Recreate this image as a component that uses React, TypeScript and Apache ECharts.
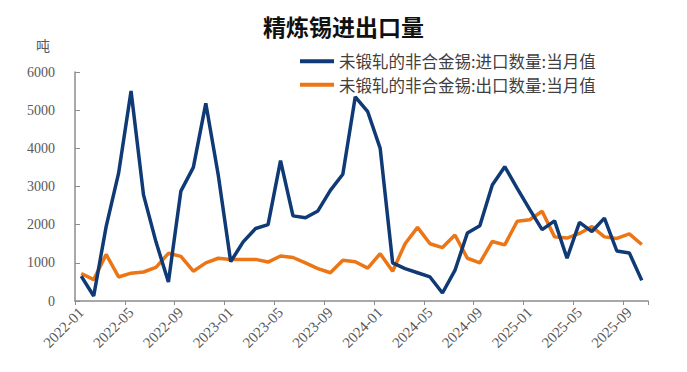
import React, { useEffect, useRef } from "react";
import * as echarts from "echarts";

const months: string[] = [];
for (let y = 2022; y <= 2025; y++) {
  for (let m = 1; m <= 12; m++) {
    if (y === 2025 && m > 10) break;
    months.push(`${y}-${m < 10 ? "0" + m : m}`);
  }
}

const importName = "未锻轧的非合金锡:进口数量:当月值";
const exportName = "未锻轧的非合金锡:出口数量:当月值";

const importValues = [
  650, 130, 1950, 3350, 5500, 2780, 1550, 500, 2880, 3500, 5180, 3300,
  1030, 1550, 1900, 2000, 3680, 2230, 2180, 2360, 2900, 3320, 5350, 4960,
  4000, 1000, 850, 740, 630, 210, 800, 1780, 1970, 3040, 3520, 2950,
  2400, 1870, 2100, 1120, 2060, 1820, 2170, 1310, 1260, 540,
];

const exportValues = [
  720, 560, 1220, 630, 730, 760, 880, 1250, 1170, 780, 1000, 1120,
  1090, 1090, 1090, 1020, 1180, 1140, 1000, 850, 740, 1070, 1030, 860,
  1240, 780, 1500, 1930, 1500, 1400, 1730, 1120, 1000, 1560, 1470, 2090,
  2130, 2350, 1680, 1650, 1770, 1950, 1680, 1640, 1760, 1480,
];

const yTicks = [0, 1000, 2000, 3000, 4000, 5000, 6000];

const BLUE = "#0f3a75";
const ORANGE = "#ec7616";
const CJK = "Noto Sans CJK SC";
const SERIF = "serif";

export default function App() {
  const ref = useRef<HTMLDivElement>(null);

  useEffect(() => {
    if (!ref.current) return;
    const chart = echarts.init(ref.current, undefined, { renderer: "svg" });
    chart.setOption({
      animation: false,
      backgroundColor: "#ffffff",
      title: {
        text: "精炼锡进出口量",
        left: "center",
        top: 9,
        textStyle: { fontFamily: CJK, fontSize: 23, fontWeight: "bold", color: "#111111" },
      },
      graphic: [
        {
          type: "text",
          left: 36,
          top: 38,
          style: { text: "吨", fontFamily: CJK, fontSize: 14, fill: "#595959" },
        },
      ],
      legend: {
        orient: "vertical",
        left: 295,
        top: 48,
        itemWidth: 34,
        itemHeight: 4,
        itemGap: 7,
        icon: "rect",
        textStyle: { fontFamily: CJK, fontSize: 16.5, color: "#404040" },
        data: [importName, exportName],
      },
      grid: { left: 75, right: 39, top: 72, bottom: 71, containLabel: false },
      xAxis: {
        type: "category",
        data: months,
        boundaryGap: true,
        axisLine: { lineStyle: { color: "#8c8c8c", width: 1.5 } },
        axisTick: { show: true, interval: 3, length: 4, lineStyle: { color: "#8c8c8c" } },
        axisLabel: {
          interval: 3,
          rotate: 45,
          margin: 9,
          fontFamily: SERIF,
          fontSize: 15,
          color: "#595959",
        },
        splitLine: { show: false },
      },
      yAxis: {
        type: "value",
        min: yTicks[0],
        max: yTicks[yTicks.length - 1],
        interval: 1000,
        axisLine: { show: true, lineStyle: { color: "#8c8c8c", width: 1.5 } },
        axisTick: { show: true, inside: true, length: 5, lineStyle: { color: "#8c8c8c" } },
        axisLabel: {
          margin: 20,
          fontFamily: SERIF,
          fontSize: 14,
          color: "#595959",
          formatter: (v: number) => String(v),
        },
        splitLine: { show: false },
      },
      series: [
        {
          name: importName,
          type: "line",
          data: importValues,
          symbol: "none",
          lineStyle: { color: BLUE, width: 3.5 },
          itemStyle: { color: BLUE },
          z: 3,
        },
        {
          name: exportName,
          type: "line",
          data: exportValues,
          symbol: "none",
          lineStyle: { color: ORANGE, width: 3.5 },
          itemStyle: { color: ORANGE },
          z: 2,
        },
      ],
    });
    return () => chart.dispose();
  }, []);

  return (
    <div
      ref={ref}
      style={{ position: "fixed", left: 0, top: 0, width: 687, height: 372, background: "#fff" }}
    />
  );
}
